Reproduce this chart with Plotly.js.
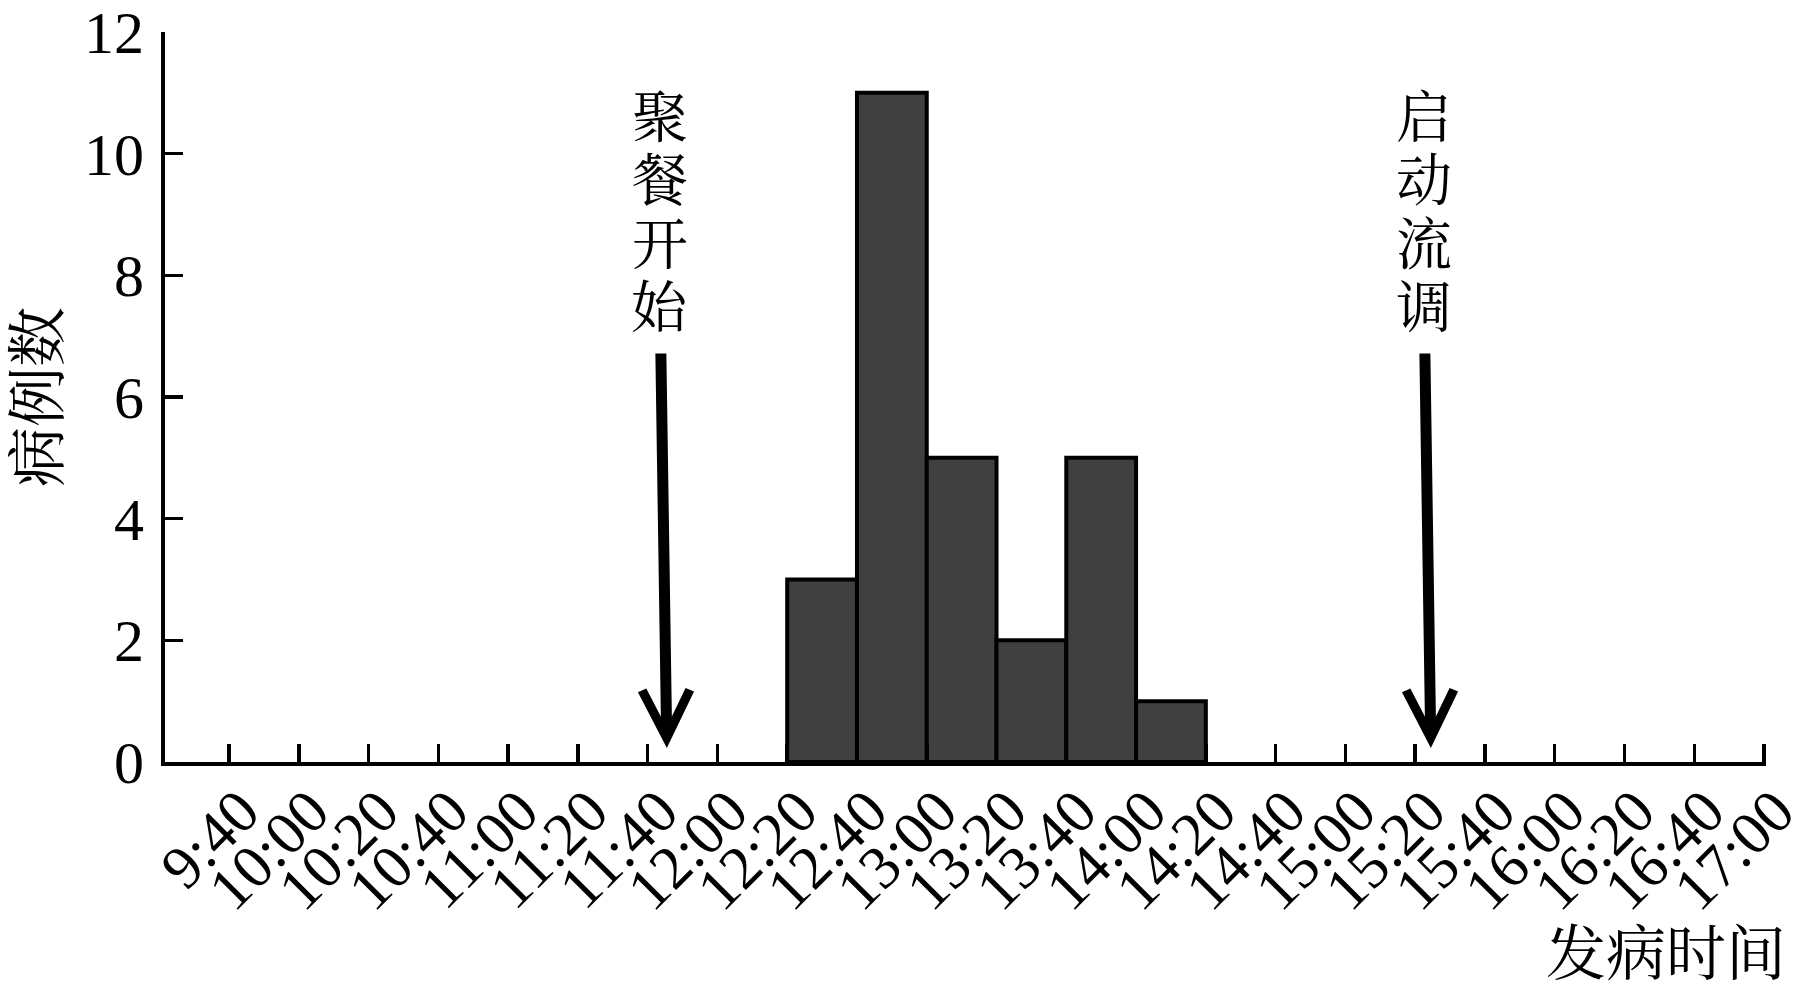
<!DOCTYPE html>
<html>
<head>
<meta charset="utf-8">
<script src="https://cdn.plot.ly/plotly-3.0.1.min.js"></script>
<style>
  html, body { margin: 0; padding: 0; background: #ffffff; }
  #chart { width: 1809px; height: 995px; }
</style>
</head>
<body>
<div id="chart"></div>
<script>
// ---- data ----
const DAY = '2020-01-01 ';
const tickLabels = ['9:40','10:00','10:20','10:40','11:00','11:20','11:40','12:00','12:20','12:40','13:00',
                    '13:20','13:40','14:00','14:20','14:40','15:00','15:20','15:40','16:00','16:20','16:40','17:00'];
const binStarts = ['12:20','12:40','13:00','13:20','13:40','14:00'];
const caseCounts = [3, 11, 5, 2, 5, 1];
const yTicks = [0, 2, 4, 6, 8, 10, 12];
const eventLabels = ['聚餐开始', '启动流调'];
const eventTimes = ['11:45:30', '15:24:30'];
const xTitle = '发病时间';
const yTitle = '病例数';

const BIN_MS = 20 * 60 * 1000;
const SERIF = 'Liberation Serif, "Noto Serif CJK SC", "Noto Sans CJK SC", serif';

const trace = {
  type: 'bar',
  x: binStarts.map(t => DAY + t),
  y: caseCounts,
  width: binStarts.map(() => BIN_MS),
  offset: 0,
  marker: { color: '#404040', line: { color: '#000000', width: 4 } },
  hoverinfo: 'x+y'
};

const annotations = [];
eventLabels.forEach((label, k) => {
  const t = DAY + eventTimes[k];
  // arrow
  annotations.push({
    x: t, y: 0.23, xref: 'x', yref: 'y',
    text: '', showarrow: true,
    arrowhead: 5, arrowsize: 0.85, arrowwidth: 11, arrowcolor: '#000000',
    ax: -6, ay: -396, standoff: 0
  });
  // vertical stacked characters
  Array.from(label).forEach((ch, i) => {
    annotations.push({
      x: t, y: 10.59, xref: 'x', yref: 'y',
      xshift: -7, yshift: -i * 63.5,
      text: ch, showarrow: false,
      xanchor: 'center', yanchor: 'middle',
      font: { family: SERIF, size: 56, color: '#000000' }
    });
  });
});
// x-axis title at the bottom right
annotations.push({
  x: 1, y: 0, xref: 'paper', yref: 'paper',
  xanchor: 'right', yanchor: 'middle',
  xshift: 22, yshift: -193,
  text: xTitle, showarrow: false,
  font: { family: SERIF, size: 60, color: '#000000' }
});

const layout = {
  width: 1809, height: 995,
  margin: { l: 165, r: 43, t: 32, b: 233 },
  paper_bgcolor: '#ffffff', plot_bgcolor: '#ffffff',
  showlegend: false,
  bargap: 0,
  xaxis: {
    type: 'date',
    range: [DAY + '09:21:39', DAY + '17:00:34'],
    tickmode: 'array',
    tickvals: tickLabels.map(t => DAY + t),
    ticktext: tickLabels,
    tickangle: -45,
    ticks: 'inside', ticklen: 18, tickwidth: 3.5, tickcolor: '#000000',
    ticklabelshift: 12, ticklabelstandoff: -15,
    ticklabeloverflow: 'allow',
    showline: true, linewidth: 4, linecolor: '#000000',
    showgrid: false, zeroline: false,
    tickfont: { family: SERIF, size: 61, color: '#000000' },
    fixedrange: true
  },
  yaxis: {
    range: [0, 12],
    tickmode: 'array', tickvals: yTicks,
    ticks: 'inside', ticklen: 18, tickwidth: 3.5, tickcolor: '#000000',
    ticklabelstandoff: 5,
    showline: true, linewidth: 4, linecolor: '#000000',
    showgrid: false, zeroline: false,
    tickfont: { family: SERIF, size: 60, color: '#000000' },
    title: { text: yTitle, font: { family: SERIF, size: 60, color: '#000000' }, standoff: 6 },
    fixedrange: true
  },
  annotations: annotations
};

Plotly.newPlot('chart', [trace], layout, { displayModeBar: false, staticPlot: true });
</script>
</body>
</html>
